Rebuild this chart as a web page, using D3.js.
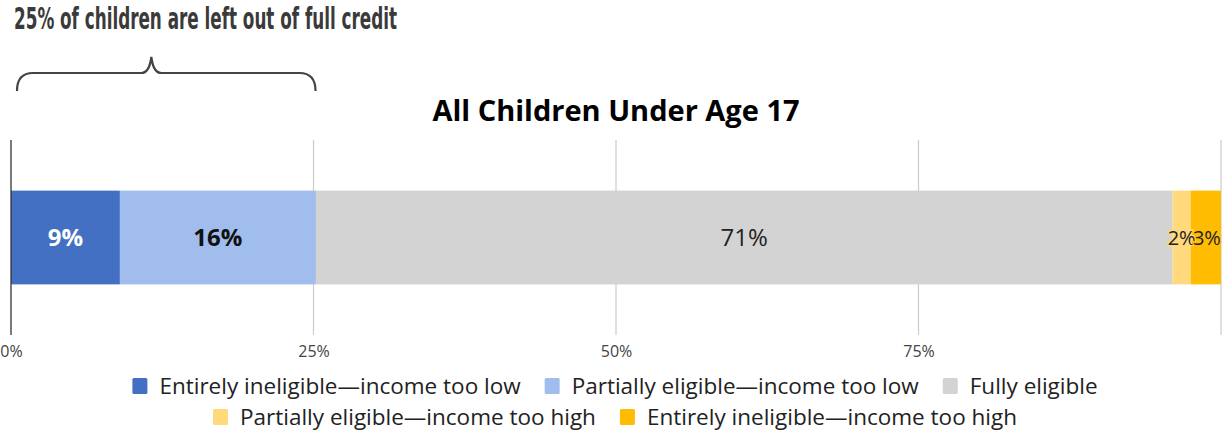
<!DOCTYPE html>
<html>
<head>
<meta charset="utf-8">
<script src="https://cdn.jsdelivr.net/npm/d3@7"></script>
<style>
  html, body { margin: 0; padding: 0; background: #fff; }
  svg { display: block; }
</style>
</head>
<body>
<svg id="chart" width="1225" height="431"></svg>
<script>
// Share of children under 17 by child tax credit eligibility (percent)
const categories = [
  "Entirely ineligible\u2014income too low",
  "Partially eligible\u2014income too low",
  "Fully eligible",
  "Partially eligible\u2014income too high",
  "Entirely ineligible\u2014income too high"
];
const shares = [9.0, 16.2, 70.8, 1.5, 2.5];
const colors = ["#4370c3", "#a1bdee", "#d3d3d3", "#ffd97c", "#ffbc00"];
const labelColors = ["#ffffff", "#111111", "#222222", "#222222", "#222222"];
const labelWeights = ["bold", "bold", "normal", "normal", "normal"];
const labelSizes = [24, 24, 24, 20, 20];
const tickValues = [0, 25, 50, 75, 100];
const tickLabels = ["0%", "25%", "50%", "75%", ""];
const chartTitle = "All Children Under Age 17";
const headline = "25% of children are left out of full credit";
const leftOutShare = 25;

const svg = d3.select("#chart");

const x = d3.scaleLinear().domain([0, 100]).range([11, 1221]);
const y = d3.scaleBand().domain(["all"]).range([140, 335]).paddingInner(0).paddingOuter(0.54);

// stacked segments
let acc = 0;
const segs = shares.map((v, i) => {
  const s = { i, start: acc, end: acc + v, value: v };
  acc += v;
  return s;
});

// gridlines
svg.append("g")
  .selectAll("line")
  .data(tickValues.slice(1))
  .join("line")
  .attr("x1", d => x(d)).attr("x2", d => x(d))
  .attr("y1", 140).attr("y2", 335)
  .attr("stroke", "#cccccc").attr("stroke-width", 1.2);

// bars
svg.append("g")
  .selectAll("rect")
  .data(segs)
  .join("rect")
  .attr("x", d => x(d.start))
  .attr("width", d => x(d.end) - x(d.start))
  .attr("y", y("all"))
  .attr("height", y.bandwidth())
  .attr("fill", d => colors[d.i]);

// baseline at zero
svg.append("line")
  .attr("x1", x(0)).attr("x2", x(0))
  .attr("y1", 140).attr("y2", 335)
  .attr("stroke", "#333").attr("stroke-width", 1.3);

// value labels
svg.append("g")
  .selectAll("text")
  .data(segs)
  .join("text")
  .attr("x", d => (x(d.start) + x(d.end)) / 2 + (d.i === 4 ? 1 : 0))
  .attr("y", y("all") + y.bandwidth() / 2)
  .attr("dy", "0.36em")
  .attr("text-anchor", "middle")
  .attr("font-family", "'Open Sans', 'Noto Sans', sans-serif")
  .attr("font-size", d => labelSizes[d.i])
  .attr("font-weight", d => labelWeights[d.i])
  .attr("fill", d => labelColors[d.i])
  .attr("stroke", d => d.i >= 3 ? colors[d.i] : "none")
  .attr("stroke-width", d => d.i >= 3 ? 3 : 0)
  .attr("paint-order", "stroke")
  .text(d => Math.round(d.value) + "%");

// axis tick labels
const axis = d3.axisBottom(x)
  .tickValues(tickValues)
  .tickFormat((d, i) => tickLabels[i])
  .tickSize(0)
  .tickPadding(0);
const ag = svg.append("g").attr("transform", "translate(0,357)").call(axis);
ag.select(".domain").remove();
ag.selectAll("text")
  .attr("font-family", "'Open Sans', 'Noto Sans', sans-serif")
  .attr("font-size", 16)
  .attr("fill", "#444")
  .attr("dy", "0");

// chart title
svg.append("text")
  .attr("x", x(50))
  .attr("y", 121)
  .attr("text-anchor", "middle")
  .attr("font-family", "'Open Sans', 'Noto Sans', sans-serif")
  .attr("font-weight", "bold")
  .attr("font-size", 29)
  .attr("fill", "#000")
  .text(chartTitle);

// headline annotation
svg.append("text")
  .attr("x", 14)
  .attr("y", 29)
  .attr("font-family", "'Liberation Sans Narrow', 'DejaVu Sans Condensed', sans-serif")
  .attr("font-stretch", "condensed")
  .attr("font-weight", "bold")
  .attr("font-size", 31)
  .attr("fill", "#3a3a3a")
  .attr("textLength", 383)
  .attr("lengthAdjust", "spacingAndGlyphs")
  .text(headline);

// brace over the left-out share
const bx0 = x(0) + 6, bx1 = x(leftOutShare) + 2;
const peak = bx0 + (bx1 - bx0) * 0.45;
const yBot = 91, yMid = 73, yTop = 57, r = 16;
const p = d3.path();
p.moveTo(bx0, yBot);
p.quadraticCurveTo(bx0, yMid, bx0 + r, yMid);
p.lineTo(peak - 10, yMid);
p.quadraticCurveTo(peak - 2, yMid, peak, yTop);
p.quadraticCurveTo(peak + 2, yMid, peak + 10, yMid);
p.lineTo(bx1 - r, yMid);
p.quadraticCurveTo(bx1, yMid, bx1, yBot);
svg.append("path")
  .attr("d", p.toString())
  .attr("fill", "none")
  .attr("stroke", "#444")
  .attr("stroke-width", 2.2);

// legend, two centred rows
const rows = [[0, 1, 2], [3, 4]];
const rowBaseline = [394, 425];
const legend = svg.append("g")
  .attr("font-family", "'Open Sans', 'Noto Sans', sans-serif")
  .attr("font-size", 22.5)
  .attr("fill", "#222");
rows.forEach((row, ri) => {
  const g = legend.append("g");
  let cx = 0;
  row.forEach(ci => {
    g.append("rect")
      .attr("x", cx).attr("y", rowBaseline[ri] - 16)
      .attr("width", 15).attr("height", 16)
      .attr("rx", 1.5)
      .attr("fill", colors[ci]);
    const t = g.append("text")
      .attr("x", cx + 27).attr("y", rowBaseline[ri])
      .text(categories[ci]);
    cx += 27 + t.node().getComputedTextLength() + 24;
  });
  const w = cx - 24;
  g.attr("transform", `translate(${615 - w / 2},0)`);
});
</script>
</body>
</html>
